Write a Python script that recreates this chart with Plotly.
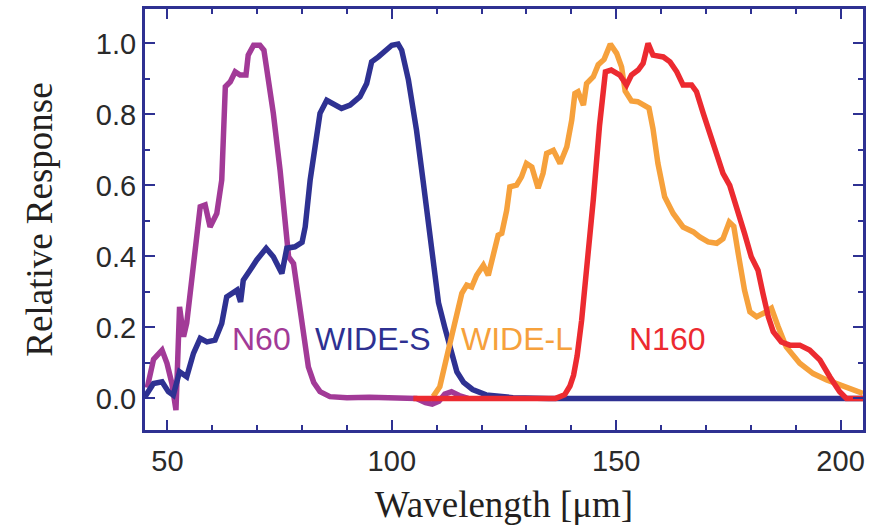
import plotly.graph_objects as go

# ---- data ----
n60_x = [45.5, 46.9, 48.8, 49.9, 51.0, 51.9, 52.7, 53.6, 54.3, 55.8, 57.3, 58.4, 59.5, 61.0,
         62.1, 62.9, 64.0, 65.1, 66.2, 67.5, 68.0, 69.2, 70.6, 71.5, 73.6, 75.1, 76.2, 77.0,
         78.1, 79.2, 80.3, 81.4, 82.6, 84.0, 86.2, 90.0, 95.0, 100.0, 105.5, 107.5, 109.0,
         110.5, 111.8, 113.3, 115.0, 117.0]
n60_y = [0.03, 0.11, 0.136, 0.099, 0.042, -0.033, 0.258, 0.174, 0.212, 0.38, 0.54, 0.545,
         0.483, 0.521, 0.615, 0.878, 0.892, 0.92, 0.911, 0.911, 0.967, 0.995, 0.995, 0.981,
         0.803, 0.643, 0.512, 0.399, 0.38, 0.286, 0.174, 0.089, 0.045, 0.019, 0.005, 0.002,
         0.003, 0.002, 0.0, -0.012, -0.016, -0.008, 0.012, 0.019, 0.008, 0.0]

wides_x = [45.0, 46.9, 48.8, 50.2, 51.3, 52.7, 54.3, 55.8, 57.3, 58.8, 60.6, 62.1, 63.2, 64.7,
           65.5, 66.3, 66.9, 68.4, 69.9, 72.0, 73.6, 75.5, 76.6, 78.4, 80.0, 80.7, 81.8, 82.9,
           84.0, 85.5, 87.0, 88.8, 90.7, 92.9, 94.4, 95.5, 97.0, 98.9, 100.0, 101.4, 102.2,
           103.7, 105.5, 107.0, 108.5, 109.6, 110.4, 111.8, 112.8, 114.5, 116.0, 118.0, 121.0,
           127.0, 135.0, 205.0]
wides_y = [0.005, 0.042, 0.047, 0.019, 0.009, 0.075, 0.061, 0.127, 0.169, 0.159, 0.164, 0.211,
           0.286, 0.296, 0.305, 0.272, 0.333, 0.361, 0.390, 0.423, 0.399, 0.352, 0.423, 0.427,
           0.44, 0.483, 0.615, 0.709, 0.803, 0.840, 0.831, 0.817, 0.826, 0.850, 0.887, 0.948,
           0.962, 0.986, 0.995, 0.998, 0.981, 0.897, 0.756, 0.61, 0.46, 0.33, 0.27, 0.20, 0.15,
           0.075, 0.045, 0.025, 0.01, 0.002, 0.0, 0.0]

widel_x = [109.2, 110.7, 112.6, 114.1, 115.6, 116.7, 117.8, 118.9, 120.4, 121.5, 122.6, 123.7,
           124.5, 125.6, 126.3, 127.8, 128.9, 130.0, 131.2, 132.6, 133.7, 134.5, 136.0, 137.5,
           139.0, 140.1, 140.8, 141.5, 142.7, 143.4, 144.9, 146.0, 147.3, 148.7, 150.1, 151.2,
           152.0, 153.4, 154.8, 156.5, 157.3, 158.2, 159.3, 160.8, 162.7, 164.9, 167.2, 168.6,
           170.5, 172.4, 173.8, 175.2, 176.2, 177.3, 178.6, 179.8, 181.3, 182.7, 184.6, 186.1,
           187.9, 190.9, 193.9, 196.9, 199.8, 202.8, 205.0]
widel_y = [0.005, 0.033, 0.136, 0.211, 0.296, 0.319, 0.314, 0.347, 0.375, 0.347, 0.399, 0.46,
           0.465, 0.530, 0.596, 0.601, 0.624, 0.662, 0.652, 0.592, 0.634, 0.690, 0.699, 0.662,
           0.709, 0.784, 0.859, 0.864, 0.826, 0.887, 0.906, 0.940, 0.955, 0.998, 0.972, 0.934,
           0.866, 0.838, 0.836, 0.826, 0.818, 0.760, 0.662, 0.568, 0.521, 0.483, 0.469, 0.455,
           0.441, 0.437, 0.45, 0.497, 0.485, 0.40, 0.305, 0.244, 0.230, 0.239, 0.254, 0.202,
           0.145, 0.099, 0.070, 0.052, 0.037, 0.023, 0.014]

n160_x = [104.8, 136.5, 138.5, 139.7, 140.5, 141.3, 142.3, 143.4, 144.9, 146.3, 147.6, 148.9,
          150.8, 152.3, 153.4, 154.9, 156.0, 157.1, 158.2, 160.5, 162.0, 163.5, 164.9, 166.8,
          167.9, 169.4, 170.9, 172.4, 173.8, 175.3, 177.1, 178.6, 180.1, 181.6, 182.7, 183.9,
          185.0, 186.8, 188.7, 190.9, 193.1, 195.4, 197.6, 199.8, 201.3, 205.0]
n160_y = [0.0, 0.0, 0.01, 0.035, 0.065, 0.12, 0.22, 0.36, 0.56, 0.77, 0.92, 0.925, 0.911, 0.883,
          0.911, 0.925, 0.944, 1.0, 0.967, 0.962, 0.948, 0.920, 0.883, 0.883, 0.864, 0.803,
          0.746, 0.681, 0.634, 0.600, 0.530, 0.465, 0.399, 0.361, 0.296, 0.230, 0.188, 0.159,
          0.150, 0.150, 0.136, 0.108, 0.061, 0.019, 0.0, 0.0]

x_ticks = [50, 100, 150, 200]
y_ticks = [0.0, 0.2, 0.4, 0.6, 0.8, 1.0]

labels = ["N60", "WIDE-S", "WIDE-L", "N160"]
label_x = [70.9, 95.8, 128.0, 161.5]
label_y = [0.167, 0.167, 0.167, 0.167]

# ---- styles ----
C_PURPLE = "#a23a97"
C_BLUE = "#2e3192"
C_ORANGE = "#f6a13c"
C_RED = "#ec2a30"
FRAME = "#2e3192"
LW = 5.5

fig = go.Figure()
series = [
    (n60_x, n60_y, C_PURPLE, "N60"),
    (wides_x, wides_y, C_BLUE, "WIDE-S"),
    (widel_x, widel_y, C_ORANGE, "WIDE-L"),
    (n160_x, n160_y, C_RED, "N160"),
]
for xs, ys, col, name in series:
    fig.add_trace(go.Scatter(x=xs, y=ys, mode="lines", name=name,
                             line=dict(color=col, width=LW), hoverinfo="skip"))

for t, lx, ly, (_, _, col, _) in zip(labels, label_x, label_y, series):
    fig.add_annotation(x=lx, y=ly, xref="x", yref="y", text=t, showarrow=False,
                       font=dict(family="Liberation Sans, Arial", size=32, color=col))

tickfont = dict(family="Liberation Sans, Arial", size=29, color="#2a2a2a")
titlefont = dict(family="Liberation Serif, Times New Roman", size=37, color="#231f20")

fig.update_layout(
    width=876, height=527,
    margin=dict(l=145, r=13, t=9, b=97),
    paper_bgcolor="white", plot_bgcolor="white",
    showlegend=False,
    xaxis=dict(
        range=[45, 205], tickvals=x_ticks, ticks="inside", ticklen=10, tickwidth=2,
        tickcolor=FRAME, linecolor=FRAME, linewidth=3, mirror="allticks",
        showgrid=False, zeroline=False, tickfont=tickfont, ticklabelstandoff=3,
        automargin=False,
        minor=dict(dtick=10, tick0=0, ticks="inside", ticklen=5, tickwidth=2,
                   tickcolor=FRAME, showgrid=False),
        title=dict(text="Wavelength [μm]", font=titlefont, standoff=16),
    ),
    yaxis=dict(
        range=[-0.089, 1.097], tickvals=y_ticks, tickformat=".1f", ticks="inside",
        ticklen=10, tickwidth=2, tickcolor=FRAME, linecolor=FRAME, linewidth=3,
        mirror="allticks", showgrid=False, zeroline=False, tickfont=tickfont,
        automargin=False,
        minor=dict(dtick=0.1, tick0=0, ticks="inside", ticklen=5, tickwidth=2,
                   tickcolor=FRAME, showgrid=False),
        title=dict(text="Relative Response", font=titlefont, standoff=32),
    ),
)

fig.write_html("out.html")
